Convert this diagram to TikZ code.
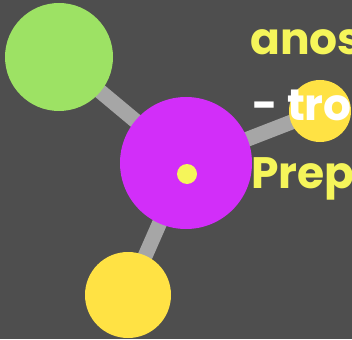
\documentclass[tikz,border=0pt]{standalone}
\usepackage{fontspec}
\setmainfont{Poppins}
\usetikzlibrary{positioning}
\pgfdeclarelayer{bg}
\pgfdeclarelayer{bars}
\pgfsetlayers{bg,bars,main}

\definecolor{slate}{HTML}{4E4E4E}
\definecolor{leafgreen}{HTML}{9DE264}
\definecolor{hubpink}{HTML}{D22EF9}
\definecolor{sunyellow}{HTML}{FFE244}
\definecolor{textyellow}{HTML}{F5F55A}
\definecolor{bargray}{HTML}{A6A6A6}

\begin{document}
\begin{tikzpicture}[x=1pt, y=-1pt,
    ball/.style={circle, fill=#1, draw=none, inner sep=0pt},
    bar/.style={line width=15pt, draw=bargray},
    word/.style={anchor=base west, inner sep=0pt, font=\fontsize{44}{44}\selectfont\bfseries}]
    \clip (0,0) rectangle (352,339);
    \begin{pgfonlayer}{bg}
        \fill[slate] (0,0) rectangle (352,339);
    \end{pgfonlayer}

    % atoms
    \node[ball=leafgreen, minimum size=108pt] (leaf) at (59,57) {};
    \node[ball=hubpink, minimum size=132pt] (hub) at (186,163) {};
    \node[ball=sunyellow, minimum size=62pt] (side) at (320,111) {};
    \node[ball=sunyellow, minimum size=86pt] (foot) at (128,295) {};
    \node[ball=textyellow, minimum size=20pt] (dot) at (187,174) {};

    % bonds
    \begin{pgfonlayer}{bars}
        \draw[bar] (leaf.center) -- (hub.center);
        \draw[bar] (hub.center) -- (side.center);
        \draw[bar] (hub.center) -- (foot.center);
    \end{pgfonlayer}

    % text lines
    \node[word, text=textyellow] (line1) at (250,55) {anos};
    \node[word, text=white] (line2) at (252,121) {- tro};
    \node[word, text=textyellow] (line3) at (251,188) {Prep};
\end{tikzpicture}
\end{document}
